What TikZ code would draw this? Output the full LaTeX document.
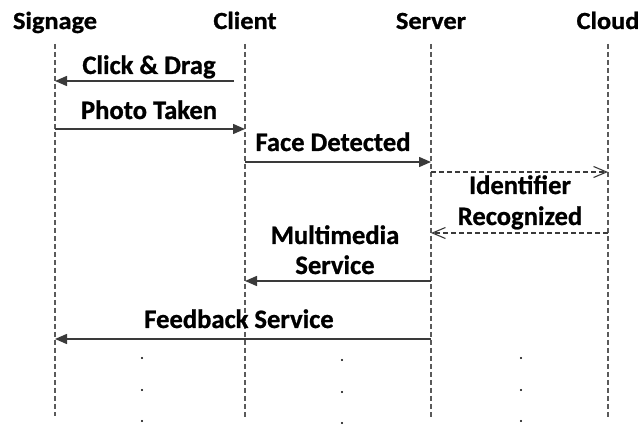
\documentclass[tikz,border=0pt]{standalone}
\usepackage{fontspec}
\setmainfont{Carlito}[BoldFeatures={FakeBold=0.8}]
\newfontfamily\titlefont[FakeStretch=1.07,BoldFeatures={FakeBold=1.0}]{Carlito}
\usetikzlibrary{arrows.meta}
\definecolor{linegray}{HTML}{3A3A3A}
\definecolor{lifegray}{HTML}{5A5A5A}
\tikzset{
  x=1pt, y=-1pt,
  title/.style={font=\titlefont\fontsize{24.6}{29}\selectfont\bfseries, anchor=base, inner sep=0pt},
  lbl/.style={font=\fontsize{26.6}{31}\selectfont\bfseries, anchor=base, inner sep=0pt},
  lifeline/.style={draw=lifegray, line width=1.2pt, dash pattern=on 5pt off 3pt},
  msg/.style={draw=linegray, line width=1.5pt, -{Triangle[length=12pt,width=10pt]}},
  reply/.style={draw=linegray, line width=1.1pt, dash pattern=on 5pt off 3pt, -{Straight Barb[length=13pt,width=11pt,line width=1.1pt]}},
  dotn/.style={circle, fill=black, inner sep=0pt, minimum size=2.4pt}
}
\begin{document}
\begin{tikzpicture}
\useasboundingbox (0,0) rectangle (641,425);
% titles
\node[title] (tS) at (55,29) {Signage};
\node[title] (tC) at (245,29) {Client};
\node[title] (tV) at (431,29) {Server};
\node[title] (tD) at (608,29) {Cloud};
% lifeline ends
\coordinate (S0) at (55,44);  \coordinate (S9) at (55,416);
\coordinate (C0) at (245,44); \coordinate (C9) at (245,417);
\coordinate (V0) at (431,44); \coordinate (V9) at (431,419);
\coordinate (D0) at (608,44); \coordinate (D9) at (608,417);
\draw[lifeline] (S0) -- (S9);
\draw[lifeline] (C0) -- (C9);
\draw[lifeline] (V0) -- (V9);
\draw[lifeline] (D0) -- (D9);
% message points
\coordinate (m1a) at (234,81);  \coordinate (m1b) at (55,81);
\coordinate (m2a) at (55,129);  \coordinate (m2b) at (245,129);
\coordinate (m3a) at (245,162); \coordinate (m3b) at (431,162);
\coordinate (m4a) at (431,172); \coordinate (m4b) at (608,172);
\coordinate (m5a) at (608,233); \coordinate (m5b) at (431,233);
\coordinate (m6a) at (431,281); \coordinate (m6b) at (245,281);
\coordinate (m7a) at (431,339); \coordinate (m7b) at (55,339);
\draw[msg] (m1a) -- (m1b);
\draw[msg] (m2a) -- (m2b);
\draw[msg] (m3a) -- (m3b);
\draw[reply] (m4a) -- (m4b);
\draw[reply] (m5a) -- (m5b);
\draw[msg] (m6a) -- (m6b);
\draw[msg] (m7a) -- (m7b);
% labels
\node[lbl] (l1) at (149,74) {Click \& Drag};
\node[lbl] (l2) at (149,119) {Photo Taken};
\node[lbl] (l3) at (333,151) {Face Detected};
\node[lbl] (l4a) at (520,194) {Identifier};
\node[lbl] (l4b) at (520,225) {Recognized};
\node[lbl] (l5a) at (335,244) {Multimedia};
\node[lbl] (l5b) at (335,274) {Service};
\node[lbl] (l6) at (239,328) {Feedback Service};
% continuation dots
\foreach \i/\y in {1/358,2/390,3/421}{
  \node[dotn] (da\i) at (142,\y) {};
  \node[dotn] (db\i) at (342,\y+2) {};
  \node[dotn] (dc\i) at (521,\y) {};
}
\end{tikzpicture}
\end{document}
